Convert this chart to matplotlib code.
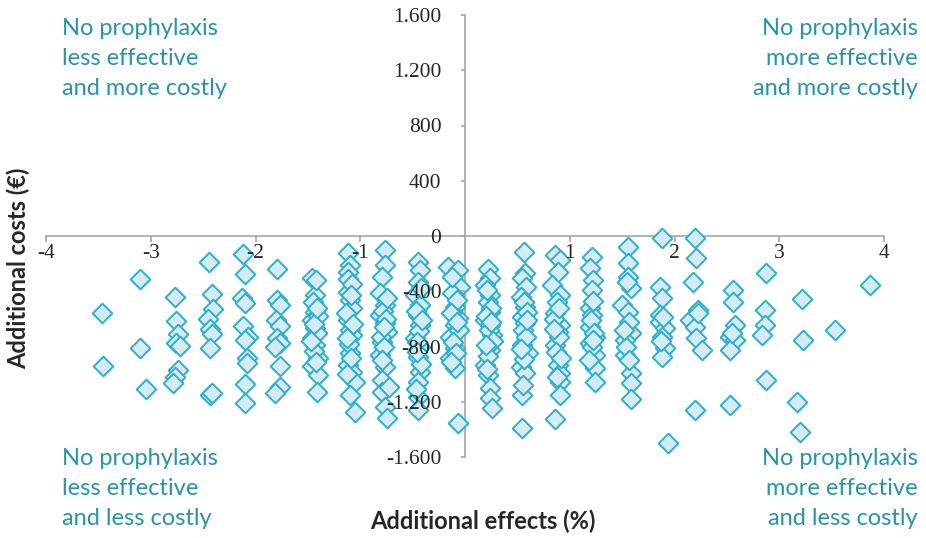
import matplotlib
matplotlib.use("Agg")
import matplotlib.pyplot as plt
from matplotlib.ticker import FuncFormatter

# Incremental effects (%) per simulation, one line per cluster
effects = [
    -3.47, -3.46,
    -3.10, -3.10, -3.05,
    -2.77, -2.76, -2.74, -2.76, -2.72, -2.74, -2.77, -2.79,
    -2.44, -2.42, -2.41, -2.45, -2.43, -2.42, -2.43, -2.43, -2.42,
    -2.12, -2.10, -2.13, -2.10, -2.12, -2.07, -2.10, -2.08, -2.08, -2.10, -2.10,
    -1.79, -1.79, -1.77, -1.80, -1.77, -1.79, -1.77, -1.81, -1.77, -1.77, -1.81,
    -1.46, -1.43, -1.43, -1.46, -1.43, -1.46, -1.43, -1.40, -1.46, -1.40, -1.41,
    -1.42, -1.45, -1.41, -1.44, -1.42, -1.40, -1.47, -1.44, -1.41,
    -1.12, -1.10, -1.12, -1.12, -1.12, -1.10, -1.08, -1.12, -1.10, -1.08, -1.10,
    -1.12, -1.08, -1.05, -1.10, -1.05, -1.08, -1.14, -1.07, -1.11, -1.09, -1.13,
    -1.09, -1.13,
    -0.76, -0.76, -0.79, -0.81, -0.76, -0.81, -0.76, -0.74, -0.79, -0.81, -0.76,
    -0.79, -0.79, -0.76, -0.74, -0.78, -0.75, -0.80, -0.77, -0.79, -0.74,
    -0.77, -0.73,
    -0.45, -0.43, -0.45, -0.48, -0.43, -0.45, -0.43, -0.48, -0.43, -0.45, -0.43,
    -0.45, -0.45, -0.45, -0.42, -0.47, -0.44, -0.46, -0.42, -0.47, -0.41, -0.46,
    -0.16, -0.07, -0.05, -0.12, -0.10, -0.07, -0.10, -0.14, -0.10, -0.14, -0.10,
    -0.07, -0.12, -0.08, -0.13, -0.06, -0.11, -0.09, -0.08, -0.13,
    0.22, 0.24, 0.19, 0.24, 0.22, 0.24, 0.19, 0.24, 0.26, 0.24, 0.19, 0.22, 0.24,
    0.24, 0.26, 0.21, 0.25, 0.20, 0.23, 0.27, 0.22, 0.21, 0.25, 0.20,
    0.56, 0.57, 0.54, 0.58, 0.53, 0.57, 0.54, 0.57, 0.54, 0.60, 0.53, 0.57, 0.54,
    0.54, 0.56, 0.59, 0.55, 0.58, 0.56, 0.55, 0.59, 0.53,
    0.86, 0.91, 0.89, 0.83, 0.91, 0.86, 0.91, 0.89, 0.86, 0.89, 0.91, 0.91, 0.91,
    0.86, 0.88, 0.85, 0.90, 0.87, 0.92, 0.88, 0.90, 0.85,
    1.21, 1.19, 1.22, 1.21, 1.19, 1.21, 1.19, 1.24, 1.19, 1.24, 1.24, 1.24,
    1.22, 1.20, 1.23, 1.21, 1.18, 1.22,
    1.56, 1.56, 1.56, 1.58, 1.50, 1.56, 1.58, 1.53, 1.53, 1.58, 1.58, 1.58,
    1.55, 1.57, 1.54, 1.57, 1.52,
    1.88, 1.86, 1.88, 1.86, 1.86, 1.91, 1.88, 1.91, 1.88, 1.94, 1.89, 1.87,
    2.20, 2.21, 2.18, 2.22, 2.15, 2.20, 2.21, 2.26, 2.20, 2.22,
    2.56, 2.56, 2.58, 2.53, 2.58, 2.53, 2.53, 2.55,
    2.87, 2.86, 2.86, 2.84, 2.87,
    3.22, 3.23, 3.17, 3.20,
    3.53,
    3.87,
]

# Incremental costs (EUR), same order as effects
costs = [
    -557, -940,
    -311, -810, -1107,
    -439, -615, -709, -774, -796, -969, -1018, -1064,
    -186, -420, -528, -600, -673, -709, -810, -1150, -1136,
    -130, -275, -448, -485, -651, -731, -752, -882, -918, -1071, -1208,
    -239, -463, -499, -608, -651, -738, -774, -803, -940, -1092, -1136,
    -304, -427, -550, -608, -665, -738, -788, -882, -940, -1005, -1128,
    -320, -480, -700, -830, -910, -580, -760, -640, -520,
    -123, -210, -260, -311, -405, -463, -521, -608, -680, -716, -846,
    -933, -984, -1056, -1150, -1273, -350, -560, -640, -780, -880, -1000,
    -430, -740,
    -101, -210, -297, -412, -499, -571, -629, -694, -767, -861, -947,
    -1041, -1128, -1237, -1316, -540, -600, -730, -800, -900, -450,
    -660, -1090,
    -188, -246, -333, -427, -499, -571, -644, -738, -803, -875, -984,
    -1056, -1164, -1259, -380, -540, -690, -770, -930, -1110, -610, -840,
    -224, -246, -369, -412, -514, -593, -644, -731, -810, -882, -955,
    -1353, -300, -460, -560, -680, -770, -850, -620, -910,
    -239, -304, -354, -427, -477, -550, -608, -644, -716, -825, -933, -1005, -1099,
    -1172, -1244, -390, -520, -580, -680, -760, -870, -960, -620, -790,
    -116, -268, -304, -369, -441, -514, -586, -629, -788, -846, -947, -991, -1150,
    -1389, -480, -550, -680, -730, -890, -1080, -610, -820,
    -137, -174, -260, -354, -427, -557, -644, -694, -788, -933, -991, -1056, -1150,
    -1324, -480, -600, -730, -840, -880, -1020, -520, -670,
    -152, -231, -318, -391, -521, -571, -658, -731, -774, -861, -955, -1056,
    -470, -610, -700, -800, -900, -750,
    -80, -195, -297, -376, -499, -550, -702, -752, -861, -991, -1063, -1179,
    -330, -620, -800, -900, -680,
    -14, -369, -448, -571, -622, -665, -731, -810, -875, -1497, -590, -760,
    -14, -159, -333, -535, -608, -658, -738, -825, -1259, -560,
    -391, -477, -644, -731, -752, -825, -1222, -700,
    -268, -535, -644, -716, -1041,
    -456, -752, -1201, -1418,
    -680,
    -354,
]

x_ticks = [-4, -3, -2, -1, 1, 2, 3, 4]
y_ticks = [-1600, -1200, -800, -400, 0, 400, 800, 1200, 1600]

quadrant_labels = {
    "top_left": "No prophylaxis\nless effective\nand more costly",
    "top_right": "No prophylaxis\nmore effective\nand more costly",
    "bottom_left": "No prophylaxis\nless effective\nand less costly",
    "bottom_right": "No prophylaxis\nmore effective\nand less costly",
}

teal = "#2794AB"
axis_grey = "#A6A6A6"


def thousands(v, pos):
    # european style thousands separator
    return "{:,}".format(int(round(v))).replace(",", ".")


plt.rcParams["font.family"] = "Liberation Serif"

fig = plt.figure(figsize=(9.26, 5.38), dpi=100)
ax = fig.add_axes([46 / 926, 1 - 457 / 538, 838 / 926, 442 / 538])

ax.scatter(effects, costs, marker="D", s=100, facecolor="#D5EBF2",
           edgecolor="#2FAFCB", linewidth=1.4, zorder=3, clip_on=False)

ax.set_xlim(-4, 4)
ax.set_ylim(-1600, 1600)

# axes crossing at the origin
ax.spines["left"].set_position("zero")
ax.spines["bottom"].set_position("zero")
ax.spines["right"].set_visible(False)
ax.spines["top"].set_visible(False)
for side in ("left", "bottom"):
    ax.spines[side].set_color(axis_grey)
    ax.spines[side].set_linewidth(1.2)

ax.set_xticks(x_ticks)
ax.set_yticks(y_ticks)
ax.yaxis.set_major_formatter(FuncFormatter(thousands))
ax.xaxis.set_major_formatter(FuncFormatter(thousands))
ax.tick_params(axis="both", direction="out", width=1.2, color=axis_grey,
               labelsize=15.5, labelcolor="#262626")
ax.tick_params(axis="x", length=4.5, pad=1)
ax.tick_params(axis="y", length=3, pad=14)
# tick labels sit on top of the diamonds, spines stay underneath
ax.xaxis.set_zorder(4)
ax.yaxis.set_zorder(4)

fig.text(483 / 926, 1 - 521 / 538, "Additional effects (%)", ha="center",
         va="center", fontsize=17, fontweight="bold", family="Lato",
         color="#262626")
fig.text(18 / 926, 1 - 268 / 538, "Additional costs (\u20ac)", ha="center",
         va="center", rotation=90, fontsize=17, fontweight="bold",
         family="Lato", color="#262626")

qkw = dict(fontsize=17, color=teal, family="Lato", linespacing=1.52)
fig.text(62 / 926, 1 - 18 / 538, quadrant_labels["top_left"], ha="left", va="top", **qkw)
fig.text(918 / 926, 1 - 18 / 538, quadrant_labels["top_right"], ha="right", va="top",
         multialignment="right", **qkw)
fig.text(62 / 926, 1 - 448 / 538, quadrant_labels["bottom_left"], ha="left", va="top", **qkw)
fig.text(918 / 926, 1 - 448 / 538, quadrant_labels["bottom_right"], ha="right", va="top",
         multialignment="right", **qkw)

fig.savefig("out.png", dpi=100)
